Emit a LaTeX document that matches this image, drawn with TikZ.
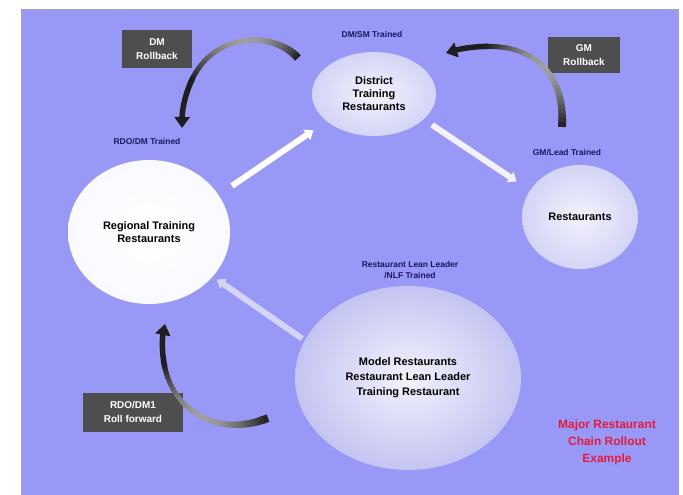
\documentclass[tikz,border=0pt]{standalone}
\usepackage{fontspec}
\setmainfont{Liberation Sans}
\usetikzlibrary{shapes.geometric,arrows.meta}
\definecolor{bgblue}{RGB}{152,152,246}
\definecolor{navy}{RGB}{25,25,100}
\definecolor{boxgray}{RGB}{78,78,78}
\definecolor{redtxt}{RGB}{228,28,60}
\definecolor{lavA}{RGB}{242,242,253}
\definecolor{lavB}{RGB}{212,212,246}
\definecolor{lavC}{RGB}{196,196,242}
\newcommand\ribbon[4]{%
  \foreach \k in {0,...,31}{%
    \pgfmathsetmacro\ta{\k/40}%
    \pgfmathsetmacro\tb{(\k+1.5)/40}%
    \pgfmathsetmacro\tm{(\k+0.5)/40}%
    \pgfmathsetmacro\grd{88-50*sin(225*\tm)}%
    \pgfmathsetmacro\lw{4+4*(1-\tm)^3+2*\tm^3}%
    \begin{pgfscope}%
      \pgfsetlinewidth{\lw bp}%
      \pgfsetcolor{black!\grd}%
      \pgfpathcurvebetweentime{\ta}{\tb}{\pgfpointanchor{#1}{center}}{\pgfpointanchor{#2}{center}}{\pgfpointanchor{#3}{center}}{\pgfpointanchor{#4}{center}}%
      \pgfusepath{stroke}%
    \end{pgfscope}%
  }%
  \begin{pgfscope}%
    \pgfsetlinewidth{5.5bp}%
    \pgfsetcolor{black!88}%
    \pgfsetarrowsend{Triangle[width=15bp,length=11bp]}%
    \pgfpathcurvebetweentime{0.79}{1}{\pgfpointanchor{#1}{center}}{\pgfpointanchor{#2}{center}}{\pgfpointanchor{#3}{center}}{\pgfpointanchor{#4}{center}}%
    \pgfusepath{stroke}%
  \end{pgfscope}}
\begin{document}
\begin{tikzpicture}[x=1bp,y=-1bp,
  bubble/.style={ellipse, inner sep=0pt, align=center, shading=radial,
    font=\fontsize{11}{13}\selectfont\bfseries},
  tag/.style={font=\fontsize{8.5}{10.5}\selectfont\bfseries, text=navy, align=center, inner sep=0pt},
  rbox/.style={fill=boxgray, text=white, align=center, inner sep=0pt,
    font=\fontsize{10}{14}\selectfont\bfseries},
  flow/.style={line width=6bp, -{Triangle[width=12bp,length=8bp]}}]
\useasboundingbox (0,0) rectangle (683,495);
\fill[white] (0,0) rectangle (683,495);
\filldraw[fill=bgblue, draw=gray!70, line width=0.8bp] (21,9) rectangle (678,500);

% ellipses
\node[bubble, minimum width=124bp, minimum height=84bp, inner color=lavA, outer color=lavB] (dist) at (374,94) {District\\Training\\Restaurants};
\node[bubble, minimum width=162bp, minimum height=144bp, inner color=white, outer color=white!94!bgblue] (reg) at (149,232) {Regional Training\\Restaurants};
\node[bubble, minimum width=116bp, minimum height=104bp, inner color=lavA, outer color=lavB] (rest) at (580,217) {Restaurants};
\node[bubble, minimum width=226bp, minimum height=184bp, inner color=lavA, outer color=lavC,
  font=\fontsize{11}{15}\selectfont\bfseries] (model) at (408,378) {Model Restaurants\\Restaurant Lean Leader\\Training Restaurant};

% labels
\node[tag] (lds) at (372,35) {DM/SM Trained};
\node[tag] (lrd) at (147,142) {RDO/DM Trained};
\node[tag] (lgm) at (567,153) {GM/Lead Trained};
\node[tag] (lrl) at (410,270) {Restaurant Lean Leader\\/NLF Trained};

% boxes
\node[rbox, minimum width=70bp, minimum height=38bp] (bdm) at (157,49) {DM\\Rollback};
\node[rbox, minimum width=72bp, minimum height=36bp] (bgm) at (584,55) {GM\\Rollback};
\node[rbox, minimum width=100bp, minimum height=39bp] (brd) at (133,412) {RDO/DM1\\Roll forward};

% red title
\node[font=\fontsize{12}{17}\selectfont\bfseries, text=redtxt, align=center] (title) at (607,442) {Major Restaurant\\Chain Rollout\\Example};

% straight arrows
\draw[flow, white, shorten <=16bp, shorten >=16bp] (reg.28) -- (dist.210);
\draw[flow, lavA, shorten <=10bp, shorten >=16bp] (dist.-27) -- (rest.152);
\draw[flow, lavB, shorten <=3bp, shorten >=5bp] (model.160) -- (reg.-35);

% curved arrows
\coordinate (dmA) at (298,58);
\coordinate (dmB) at (270,26);
\coordinate (dmC) at (183,30);
\coordinate (dmD) at (182,128);
\ribbon{dmA}{dmB}{dmC}{dmD}
\coordinate (gmA) at (562,127);
\coordinate (gmB) at (566,62);
\coordinate (gmC) at (518,32);
\coordinate (gmD) at (446,53);
\ribbon{gmA}{gmB}{gmC}{gmD}
\coordinate (rdA) at (268,418);
\coordinate (rdB) at (210,442);
\coordinate (rdC) at (150,400);
\coordinate (rdD) at (165,324);
\ribbon{rdA}{rdB}{rdC}{rdD}
\end{tikzpicture}
\end{document}
